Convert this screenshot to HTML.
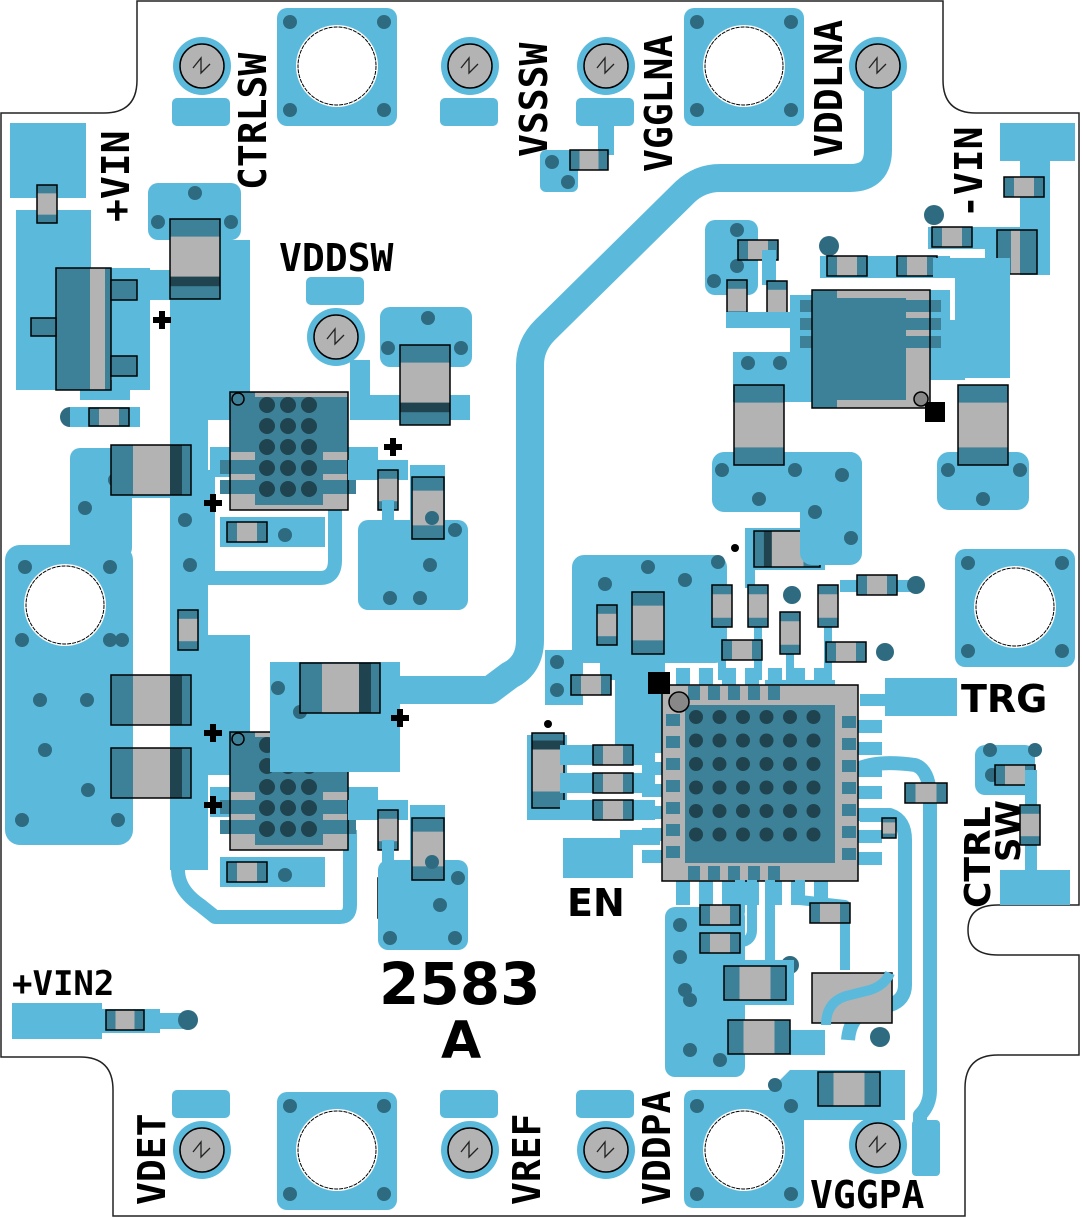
<!DOCTYPE html>
<html><head><meta charset="utf-8"><style>
html,body{margin:0;padding:0;background:#fff;width:1082px;height:1218px;overflow:hidden}
svg{display:block}
.t{font-family:"DejaVu Sans Mono","Liberation Mono",monospace;font-weight:bold;font-size:38px;fill:#000}
.n{font-family:"DejaVu Sans","Liberation Sans",sans-serif;font-weight:bold;fill:#000}
</style></head><body>
<svg id="s" width="1082" height="1218" viewBox="0 0 1082 1218" xmlns="http://www.w3.org/2000/svg">
<path d="M137,1 L943,1 L943,80 Q943,113 976,113 L1079,113 L1079,905 L998,905 Q968,905 968,930 Q968,955 998,955 L1079,955 L1079,1055 L998,1055 Q965,1055 965,1088 L965,1216 L113,1216 L113,1090 Q113,1057 80,1057 L1,1057 L1,113 L104,113 Q137,113 137,80 Z" fill="#fff" stroke="#222" stroke-width="1.5"/>
<g id="g"></g>
<text class="t" transform="translate(266,190) rotate(-90)">CTRLSW</text>
<text class="t" transform="translate(547,157) rotate(-90)">VSSSW</text>
<text class="t" transform="translate(672,172) rotate(-90)">VGGLNA</text>
<text class="t" transform="translate(842,157) rotate(-90)">VDDLNA</text>
<text class="t" transform="translate(129,222) rotate(-90)">+VIN</text>
<text class="t" transform="translate(982,218) rotate(-90)">-VIN</text>
<text class="t" x="279" y="271">VDDSW</text>
<text class="t" x="12" y="995" style="font-size:34px">+VIN2</text>
<text class="n" x="961" y="712" style="font-size:38px">TRG</text>
<text class="n" x="567" y="916" style="font-size:38px">EN</text>
<text class="n" transform="translate(990,908) rotate(-90)" style="font-size:36px">CTRL</text>
<text class="n" transform="translate(1020,862) rotate(-90)" style="font-size:34px">SW</text>
<text class="n" x="379" y="1004" style="font-size:58px">2583</text>
<text class="n" x="441" y="1058" style="font-size:52px">A</text>
<text class="t" transform="translate(165,1205) rotate(-90)">VDET</text>
<text class="t" transform="translate(540,1205) rotate(-90)">VREF</text>
<text class="t" transform="translate(670,1205) rotate(-90)">VDDPA</text>
<text class="t" x="810" y="1208">VGGPA</text>
</svg>
<script>
var B='#5bbadb',D='#3d8199',G='#b3b3b3',K='#1f4450',V='#2f6b80';
var h='';
function r(x,y,w,H,c,rx,st){h+='<rect x="'+x+'" y="'+y+'" width="'+w+'" height="'+H+'" fill="'+(c||B)+'"'+(rx?' rx="'+rx+'"':'')+(st?' stroke="#000" stroke-width="1.5"':'')+'/>';}
function c(x,y,R,f,st){h+='<circle cx="'+x+'" cy="'+y+'" r="'+R+'" fill="'+(f||V)+'"'+(st?' stroke="#000" stroke-width="1.5"':'')+'/>';}
function v(x,y){c(x,y,7,V);}
function p(d,w,col){h+='<path d="'+d+'" fill="none" stroke="'+(col||B)+'" stroke-width="'+w+'" stroke-linejoin="round"/>';}
function pf(d,col){h+='<path d="'+d+'" fill="'+(col||B)+'"/>';}
function ch(x,y,w,H,band){
 r(x,y,w,H,G);var e=w*0.25;r(x,y,e,H,D);r(x+w-e,y,e,H,D);
 if(band)r(x+w*band,y,w*0.12,H,K);
 r(x,y,w,H,'none',0,1);}
function cv(x,y,w,H,band){
 r(x,y,w,H,G);var e=H*0.22;r(x,y,w,e,D);r(x,y+H-e,w,e,D);
 if(band)r(x,y+H*band,w,H*0.12,K);
 r(x,y,w,H,'none',0,1);}
function tp(x,y,tab){
 if(tab==1)r(x-30,y+32,58,28,B,5);if(tab==2)r(x-30,y-60,58,28,B,5);
 c(x,y,29,B);c(x,y,22,G,1);
 h+='<path d="M'+(x-9)+','+(y+2)+' L'+(x-1)+','+(y-8)+' L'+(x-1)+','+(y+7)+' L'+(x+8)+','+(y-2)+'" fill="none" stroke="#222" stroke-width="1.3"/>';}
function mp(x,y){r(x-60,y-58,120,118,B,10);c(x,y,41,'#fff');c(x,y,39,'#fff');h+='<circle cx="'+x+'" cy="'+y+'" r="39" fill="none" stroke="#000" stroke-width="1" stroke-dasharray="4 1"/>';
 v(x-47,y-44);v(x+47,y-44);v(x-47,y+44);v(x+47,y+44);}
function plus(x,y){r(x-9,y-3,18,6,'#000');r(x-3,y-9,6,18,'#000');}

p('M878,66 L878,150 Q878,178 850,178 L720,178 Q700,178 685,192 L545,330 Q530,345 530,365 L530,640 Q530,665 510,675 L490,690 L385,690',28);
tp(202,66,1);mp(337,66);tp(470,66,1);tp(606,66,1);mp(744,66);tp(878,66,0);
r(598,120,16,35);r(540,150,38,42,B,6);v(552,162);v(568,182);ch(570,150,38,20);
r(10,123,76,75);r(16,210,75,180);cv(37,185,20,38);
r(16,268,134,98);r(112,330,38,60);r(120,360,16,30);r(80,380,50,20);c(70,417,10);v(70,417);r(70,407,70,20);ch(89,408,40,18);
r(56,268,55,122,D);r(90,268,15,122,G);r(56,268,55,122,'none',0,1);
r(111,280,26,20,D,0,1);r(111,356,26,20,D,0,1);r(31,318,25,18,D,0,1);
r(148,183,93,57,B,10);v(195,193);v(158,222);v(231,222);
r(150,270,20,30);r(170,240,80,180);
cv(170,219,50,80,0.72);
r(170,420,38,215);r(170,635,80,140);r(170,770,38,100);
p('M178,870 Q178,890 200,905 L215,917 L340,917 Q350,917 350,905 L350,830',14);
p('M208,470 L208,578 L320,578 Q335,578 335,560 L335,495',14);
cv(178,610,20,40);
r(5,545,128,300,B,15);r(70,448,62,110,B,10);r(100,448,80,50);
c(65,605,41,'#fff');h+='<circle cx="65" cy="605" r="39" fill="none" stroke="#000" stroke-width="1" stroke-dasharray="4 1"/>';
[[25,567],[110,567],[22,640],[110,640],[40,700],[87,700],[45,750],[88,790],[22,820],[118,820],[85,508],[115,480]].forEach(a=>v(a[0],a[1]));
[[111,445],[111,675],[111,748]].forEach(a=>{r(a[0],a[1],80,50,G);r(a[0],a[1],22,50,D);r(a[0]+59,a[1],12,50,K);r(a[0]+71,a[1],9,50,D);r(a[0],a[1],80,50,'none',0,1);});
v(185,520);v(190,565);v(122,640);
tp(336,337,2);r(350,360,20,50);r(350,395,120,25);
r(380,307,92,60,B,10);v(428,318);v(388,348);v(461,348);cv(400,345,50,80,0.72);
function ic(x,y){r(x-20,y+55,20,30);r(x+118,y+55,30,25);r(x-10,y+125,105,30);
 r(x,y,118,118,G);r(x+25,y+5,68,108,D);r(x,y,25,60,D);r(x+93,y+5,25,55,D);
 for(var i=0;i<3;i++)for(var j=0;j<5;j++)c(x+37+i*21,y+13+j*21,8,K);
 r(x-10,y+68,38,14,D);r(x-10,y+88,38,14,D);r(x+88,y+68,38,14,D);r(x+88,y+88,38,14,D);
 c(x+8,y+7,6,D,1);r(x,y,118,118,'none',0,1);}
ic(230,392);ch(227,522,40,20);v(285,535);
ic(230,732);ch(227,862,40,20);v(285,875);
r(348,460,60,20);cv(378,470,20,40);cv(378,538,20,40);r(382,500,12,50);
r(358,520,110,90,B,10);r(410,465,35,60);cv(412,477,32,62);
[[432,518],[455,530],[430,565],[390,598],[420,598]].forEach(a=>v(a[0],a[1]));
r(270,662,130,110);r(270,662,35,80);v(278,688);v(300,712);
r(300,663,80,50,G);r(300,663,22,50,D);r(359,663,12,50,K);r(371,663,9,50,D);r(300,663,80,50,'none',0,1);
r(348,800,60,20);cv(378,810,20,40);cv(378,878,20,40);r(382,840,12,50);
r(378,860,90,90,B,10);r(410,805,35,60);cv(412,818,32,62);
[[432,862],[458,878],[440,905],[390,938],[455,938]].forEach(a=>v(a[0],a[1]));
[[213,503],[393,447],[162,320],[213,733],[213,805],[400,718]].forEach(a=>plus(a[0],a[1]));
r(12,1003,90,36);r(100,1013,55,16);r(100,1009,60,24);ch(106,1010,38,20);r(150,1013,40,16);c(188,1020,10);v(188,1020);
tp(202,1150,2);mp(337,1150);tp(470,1150,2);tp(606,1150,2);
pf('M684,1100 Q684,1090 694,1090 L770,1090 L790,1070 L905,1070 L905,1120 L804,1120 L804,1198 Q804,1208 794,1208 L694,1208 Q684,1208 684,1198 Z');
c(744,1150,41,'#fff');h+='<circle cx="744" cy="1150" r="39" fill="none" stroke="#000" stroke-width="1" stroke-dasharray="4 1"/>';
v(697,1106);v(791,1106);v(697,1194);v(791,1194);v(775,1085);
ch(818,1072,62,34);tp(878,1145,0);r(912,1120,28,56,B,4);
p('M860,768 Q880,760 915,765 Q930,770 930,800 L930,1090 Q930,1105 920,1115 L920,1175',14);
p('M860,815 L890,815 Q905,820 905,840 L905,985 Q905,1000 890,1005 L870,1010 Q850,1015 848,1040',14);
r(885,678,72,38);p('M860,700 L890,700',12);
r(572,555,155,108,B,12);r(600,640,60,40);r(545,650,38,55);v(557,662);v(557,690);ch(571,675,40,20);
[[605,584],[648,567],[685,580],[718,562]].forEach(a=>v(a[0],a[1]));
cv(597,605,20,40);cv(632,592,32,62);v(628,685);v(631,720);r(615,660,50,90);
r(527,735,40,85);cv(532,733,32,75,0.1);c(548,724,4,'#000');
r(560,745,95,20);r(560,773,95,20);r(560,800,95,20);
ch(593,745,40,20);ch(593,773,40,20);ch(593,800,40,20);
r(563,838,70,40);r(620,830,40,15);
[722,758,790,828].forEach(x=>r(x-4,620,8,60));r(745,548,10,40);
cv(712,585,20,42);cv(748,585,20,42);cv(780,612,20,42);cv(818,585,20,42);
ch(722,640,40,20);ch(826,642,40,20);c(792,595,9);v(792,595);c(885,652,9);v(885,652);
r(840,580,75,12);ch(857,575,40,20);c(916,585,9);v(916,585);
r(745,528,80,42);ch(754,531,66,36,0.15);c(735,548,4,'#000');
for(var k=0;k<7;k++){r(642,718+k*22,40,13);r(842,720+k*22,40,13);}
for(var k=0;k<7;k++){r(676+k*23,668,14,40);r(676+k*23,865,14,40);}
r(765,680,70,30);
r(662,685,196,196,G);r(685,705,150,158,D);
for(var i=0;i<6;i++)for(var j=0;j<6;j++)c(696+i*23.5,717+j*23.5,7,K);
for(var k=0;k<7;k++){r(666,714+k*22,14,12,D);r(842,716+k*22,14,12,D);}
for(var k=0;k<5;k++){r(688+k*20,686,12,14,D);r(688+k*20,866,12,14,D);}
r(662,685,196,196,'none',0,1);r(648,672,22,22,'#000');c(679,702,10,'#888',1);
ch(905,783,42,20);cv(882,818,14,20);
r(975,745,60,50,B,10);v(990,750);v(1035,750);v(992,775);ch(995,765,40,20);r(1025,770,12,110);cv(1020,805,20,40);r(1000,870,70,35);
r(665,907,80,170,B,10);[[680,925],[680,957],[690,1000],[690,1050],[720,1060],[685,990]].forEach(a=>v(a[0],a[1]));
p('M740,880 L740,912 L720,912',10);p('M752,880 L752,930 Q752,943 735,943 L720,943',10);
p('M770,880 L770,980',10);p('M800,880 L800,900 L845,905 L845,970',10);
ch(700,905,40,20);ch(700,933,40,20);c(790,965,9);v(790,965);
r(724,960,70,45);ch(724,966,62,34);ch(810,903,40,20);
r(812,973,80,50,G);r(812,973,80,50,'none',0,1);p('M826,1025 Q826,1000 850,995 L870,990 Q885,985 890,973',10);
r(790,1030,35,25);ch(728,1020,62,34);c(880,1037,10);v(880,1037);
r(705,220,53,75,B,10);v(737,230);v(737,266);v(714,281);
ch(738,240,40,20);r(762,250,14,35);cv(727,280,20,40);cv(767,281,20,40);r(726,312,95,16);
c(829,246,10);v(829,246);r(820,256,130,22);ch(827,256,40,20);ch(897,256,40,20);
c(934,215,10);v(934,215);r(928,227,100,22);ch(932,227,40,20);
r(1000,123,75,38);r(1020,160,30,115);r(985,230,60,44);
r(997,230,40,44,G);r(997,230,14,44,D);r(1020,230,17,44,D);r(997,230,40,44,'none',0,1);ch(1004,177,40,20);
r(933,258,75,20);r(955,258,55,120);r(905,320,60,60);r(875,290,75,90);
r(733,352,95,50);v(748,363);v(780,363);r(790,295,40,70);
r(812,290,118,118,G);r(837,298,69,102,D);r(812,290,25,118,D);
for(var k=0;k<3;k++){r(800,300+k*18,35,12,D);r(906,300+k*18,35,12,D);}
r(812,290,118,118,'none',0,1);r(925,402,20,20,'#000');c(921,399,7,'#888',1);
r(712,452,150,60,B,12);r(800,452,62,113,B,12);
[[722,470],[795,470],[842,475],[759,499],[815,512],[851,538]].forEach(a=>v(a[0],a[1]));
r(937,452,92,58,B,12);v(948,470);v(1020,470);v(983,499);
cv(734,385,50,80);cv(958,385,50,80);
mp(1015,607);
document.getElementById('g').innerHTML=h;
</script>
</body></html>
